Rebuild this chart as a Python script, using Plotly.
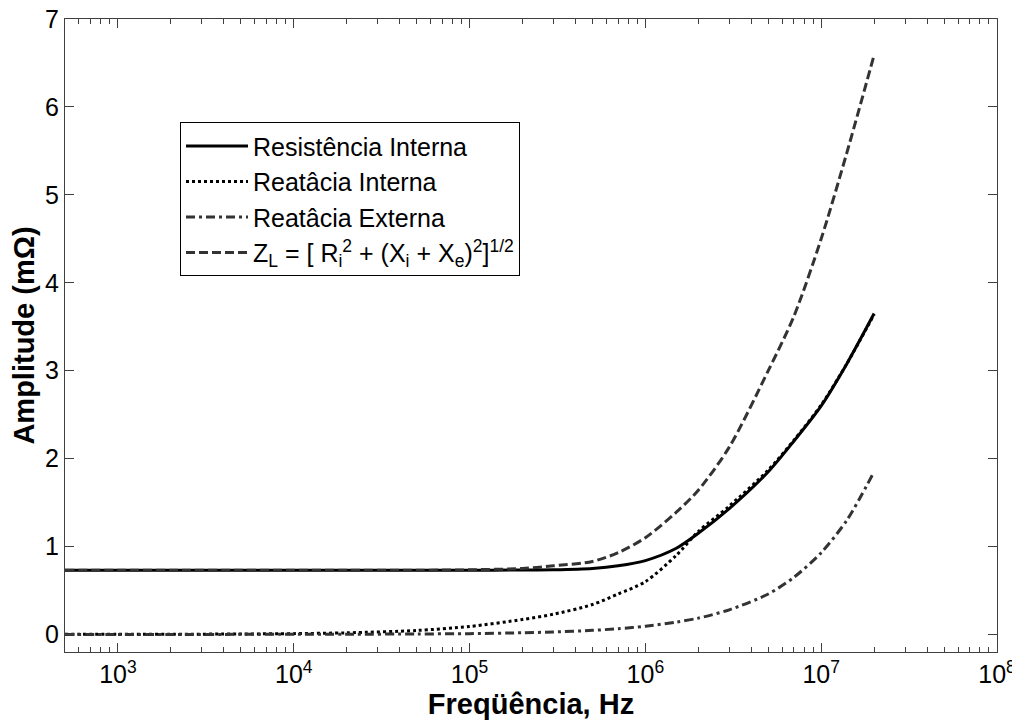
import plotly.graph_objs as go

# values (frequency in Hz, amplitudes in mOhm)
freq = [5e2, 1e3, 2e3, 5e3, 1e4, 2e4, 5e4, 1e5, 2e5, 3e5, 5e5, 7e5,
        1e6, 1.5e6, 2e6, 3e6, 5e6, 7e6, 1e7, 1.4e7, 2e7]
res_int = [0.73, 0.73, 0.73, 0.73, 0.73, 0.73, 0.73, 0.73, 0.732, 0.735, 0.75, 0.78,
           0.84, 0.98, 1.15, 1.43, 1.85, 2.2, 2.6, 3.08, 3.65]
reat_int = [0.0005, 0.001, 0.002, 0.005, 0.009, 0.018, 0.045, 0.09, 0.17, 0.23, 0.34, 0.46,
            0.6, 0.9, 1.17, 1.46, 1.87, 2.21, 2.61, 3.08, 3.64]
reat_ext = [0.00005, 0.0001, 0.0002, 0.0005, 0.001, 0.002, 0.005, 0.009, 0.019, 0.028, 0.046, 0.065,
            0.093, 0.14, 0.185, 0.28, 0.46, 0.65, 0.93, 1.3, 1.85]
z_l = [0.73, 0.73, 0.73, 0.73, 0.73, 0.73, 0.73, 0.735, 0.75, 0.78, 0.83, 0.93,
       1.1, 1.39, 1.64, 2.13, 3.0, 3.62, 4.5, 5.48, 6.59]

x_tickvals = [1e3, 1e4, 1e5, 1e6, 1e7, 1e8]
x_ticktext = ['10<sup>3</sup>', '10<sup>4</sup>', '10<sup>5</sup>',
              '10<sup>6</sup>', '10<sup>7</sup>', '10<sup>8</sup>']
y_tickvals = [0, 1, 2, 3, 4, 5, 6, 7]

names = ['Resistência Interna', 'Reatâcia Interna', 'Reatâcia Externa',
         'Z<sub>L</sub> = [ R<sub>i</sub><sup>2</sup> + (X<sub>i</sub> + X<sub>e</sub>)<sup>2</sup>]<sup>1/2</sup>']

font_fam = 'Liberation Sans, Arial, sans-serif'

fig = go.Figure()

series = [
    (res_int, names[0], '#000000', 'solid'),
    (reat_int, names[1], '#000000', '3px,3px'),
    (reat_ext, names[2], '#333333', '9px,4px,3px,4px'),
    (z_l, names[3], '#333333', '9px,4px'),
]
for vals, name, color, dash in series:
    fig.add_trace(go.Scatter(
        x=freq, y=vals, name=name, mode='lines',
        line=dict(color=color, width=3, dash=dash, shape='spline', smoothing=0.8),
    ))

# the page body adds an 8px offset, margins are compensated for it
fig.update_layout(
    width=1020, height=724,
    margin=dict(l=57, r=31, t=11, b=80),
    paper_bgcolor='white', plot_bgcolor='white',
    font=dict(family=font_fam, color='black'),
    showlegend=True,
    legend=dict(
        x=0.1234, y=0.837, xanchor='left', yanchor='top',
        bgcolor='white', bordercolor='black', borderwidth=1,
        font=dict(size=25, family=font_fam),
        tracegroupgap=0, itemwidth=62,
    ),
)

fig.update_xaxes(
    type='log', range=[2.699, 8], automargin=False,
    tickvals=x_tickvals, ticktext=x_ticktext,
    tickfont=dict(size=25), ticklabeloverflow='allow',
    ticks='inside', ticklen=9, tickcolor='#404040', tickwidth=1,
    minor=dict(ticks='inside', ticklen=5, dtick='D1', tickcolor='#404040', showgrid=False),
    showline=True, linecolor='#404040', linewidth=1, mirror='ticks',
    showgrid=False, zeroline=False,
    title=dict(text='<b>Freqüência, Hz</b>', font=dict(size=29), standoff=0),
)
fig.update_yaxes(
    range=[-0.2, 7], automargin=False,
    tickvals=y_tickvals,
    tickfont=dict(size=25), ticklabeloverflow='allow',
    ticks='inside', ticklen=9, tickcolor='#404040', tickwidth=1,
    showline=True, linecolor='#404040', linewidth=1, mirror='ticks',
    showgrid=False, zeroline=False,
    title=dict(text='<b>Amplitude (mΩ)</b>', font=dict(size=29), standoff=4),
)

fig.write_html("out.html")
